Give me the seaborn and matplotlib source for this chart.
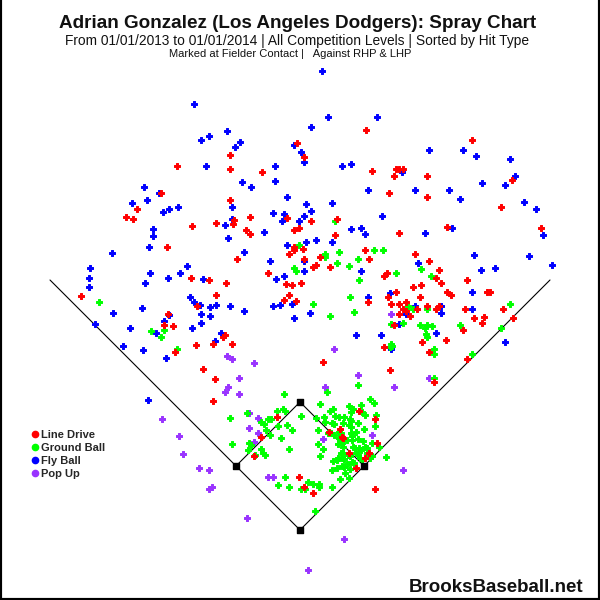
import pandas as pd
import matplotlib.pyplot as plt
import seaborn as sns
from matplotlib.lines import Line2D

# Hit locations at fielder contact, in the chart's own coordinates (y grows downward)
ld_x = [297, 366, 472, 177, 230, 230, 262, 304, 372, 396, 399, 403, 394, 427, 389, 427, 512, 501, 541, 447,
        399, 230, 161, 137, 126, 133, 192, 216, 234, 233, 250, 246, 250, 167, 237, 287, 294, 299, 311, 337,
        335, 294, 294, 289, 303, 304, 320, 313, 316, 330, 365, 369, 415, 429, 439, 436, 441, 421, 413, 384,
        387, 467, 301, 268, 191, 209, 226, 286, 292, 81, 216, 197, 168, 164, 173, 196, 213, 223, 225, 232,
        175, 203, 215, 213, 289, 284, 296, 277, 396, 388, 368, 420, 447, 451, 391, 399, 406, 403, 406, 417,
        427, 436, 439, 399, 410, 394, 465, 487, 490, 503, 484, 474, 482, 463, 513, 446, 422, 384, 429, 467,
        323, 390, 434, 359, 375, 329, 340, 342, 343, 349, 356, 365, 369, 377, 375, 261, 254, 299, 304, 313]
ld_y = [143, 130, 140, 166, 155, 169, 172, 157, 171, 169, 169, 169, 176, 176, 193, 197, 180, 207, 228, 227,
        233, 200, 193, 209, 217, 219, 226, 223, 220, 224, 217, 230, 234, 247, 259, 218, 230, 228, 221, 219,
        235, 247, 250, 254, 249, 259, 257, 267, 265, 267, 250, 259, 254, 261, 270, 278, 283, 285, 287, 276,
        273, 280, 283, 273, 278, 280, 283, 284, 285, 296, 295, 306, 314, 325, 326, 345, 344, 337, 335, 344,
        352, 369, 379, 401, 295, 300, 301, 417, 292, 297, 302, 297, 292, 295, 304, 304, 302, 309, 311, 309,
        306, 309, 306, 314, 316, 325, 309, 292, 292, 309, 317, 318, 323, 330, 318, 340, 342, 347, 352, 359,
        362, 370, 382, 411, 419, 432, 429, 437, 438, 453, 468, 458, 453, 443, 489, 437, 456, 477, 487, 493]

gb_x = [299, 294, 296, 335, 325, 325, 339, 337, 349, 358, 374, 383, 359, 396, 421, 431,
        99, 151, 164, 161, 177,
        350, 313, 330, 354, 408, 413, 427, 391, 403, 420, 425, 427, 432, 426, 427, 391, 392, 390, 434,
        434, 460, 510, 501, 472, 434, 358,
        284, 327, 370, 374, 320, 301,
        277, 283, 285, 230, 247, 261, 264, 268, 271, 278, 287, 292,
        266, 270, 281, 232, 249, 251, 261, 248, 263, 265, 255, 289,
        285, 278, 289, 308, 301, 305, 313, 319, 319, 332, 315,
        318, 318, 320,
        333, 330, 349, 361, 353, 351, 362, 365, 376, 316, 324, 335, 339, 344, 350, 351, 325, 332, 334, 343,
        349, 351, 358, 364, 375, 328, 331, 334, 339, 341, 351, 352, 356, 339, 340, 347, 352, 358, 363, 372,
        338, 342, 343, 323, 353, 355, 359, 361, 365, 367, 379, 341, 343, 338, 337, 342, 344, 348, 350, 356,
        358, 360, 362, 367, 370, 372, 386, 333, 347, 352, 354, 342, 344, 332, 337, 350, 345, 340, 349]
gb_y = [245, 268, 271, 221, 254, 257, 252, 263, 266, 259, 250, 250, 280, 273, 269, 276,
        302, 331, 330, 337, 349,
        297, 304, 316, 312, 306, 309, 309, 324, 323, 325, 328, 325, 326, 334, 337, 344, 346, 347, 349,
        354, 325, 304, 328, 354, 378, 385,
        394, 392, 399, 403, 404, 416,
        411, 409, 411, 418, 413, 422, 424, 419, 419, 426, 425, 430,
        430, 435, 438, 444, 443, 445, 449, 450, 453, 455, 455, 449,
        477, 485, 487, 482, 489, 489, 484, 484, 487, 487, 511,
        430, 444, 456,
        409, 411, 406, 405, 409, 412, 412, 415, 415, 418, 417, 416, 417, 417, 419, 421, 422, 423, 424, 423,
        425, 427, 423, 429, 426, 433, 433, 435, 432, 433, 433, 436, 432, 438, 440, 440, 440, 439, 441, 443,
        444, 443, 447, 449, 447, 448, 448, 450, 447, 448, 447, 453, 453, 458, 460, 458, 459, 455, 456, 453,
        455, 458, 460, 453, 458, 456, 457, 461, 464, 462, 463, 466, 467, 470, 468, 469, 473, 479, 478]

fb_x = [322, 194, 201, 209, 227, 240, 235, 206, 275, 242, 251, 275, 294, 287, 144, 159, 147, 132, 163, 169,
        178, 232, 232, 225, 228, 273, 284, 282, 299, 264, 153, 153, 149, 112, 244, 270, 287, 187, 150, 180,
        168, 145, 203, 90, 89, 89, 276, 284,
        328, 377, 311, 301, 304, 342, 351, 402, 429, 463, 476, 510, 515, 505, 482, 368, 415, 449, 460, 524,
        536, 543, 552, 529, 495, 481, 474, 452, 425, 382, 332, 306, 311, 304, 351, 361, 365, 316, 306, 332,
        304, 304, 361, 418,
        113, 95, 142, 130, 123, 143, 166, 156, 164, 169, 190, 194, 200, 210, 216, 230, 244, 201, 210, 201,
        192, 221, 215, 273, 280, 292, 294, 148,
        368, 390, 472, 415, 441, 441, 406, 399, 472, 310, 356, 381, 436, 391, 505]
fb_y = [71, 104, 140, 136, 131, 142, 147, 166, 166, 182, 187, 181, 145, 197, 187, 193, 200, 203, 212, 209,
        207, 207, 219, 225, 238, 213, 214, 221, 221, 232, 229, 236, 247, 253, 252, 261, 245, 266, 273, 273,
        278, 283, 279, 268, 278, 287, 279, 276,
        117, 117, 127, 152, 162, 166, 164, 172, 150, 150, 156, 159, 176, 185, 183, 190, 190, 190, 199, 202,
        209, 235, 265, 256, 268, 270, 255, 228, 233, 216, 203, 204, 211, 216, 229, 228, 234, 240, 242, 242,
        261, 271, 271, 263,
        313, 324, 308, 328, 346, 350, 358, 333, 321, 315, 297, 302, 305, 307, 305, 306, 311, 314, 316, 323,
        328, 333, 341, 306, 305, 304, 318, 400,
        297, 293, 292, 306, 306, 313, 314, 324, 309, 313, 335, 335, 333, 349, 342]

pu_x = [227, 232, 254, 239, 228, 225, 239, 162, 249, 258, 249, 258, 254, 268, 273, 179, 183, 199, 209, 209,
        212, 247, 308, 344, 391, 334, 358, 325, 394, 429, 323, 372, 403]
pu_y = [356, 359, 363, 378, 387, 392, 394, 419, 413, 418, 428, 433, 442, 477, 477, 436, 454, 468, 470, 489,
        487, 518, 570, 539, 314, 349, 375, 387, 387, 378, 439, 435, 470]

hit_types = ['Line Drive', 'Ground Ball', 'Fly Ball', 'Pop Up']
hit_colors = ['#ff0000', '#00ff00', '#0000ff', '#9933ff']

# field outline (same coordinate space)
home, first, second, third = (300, 530), (364, 466), (300, 402), (236, 466)
left_pole, right_pole = (50, 280), (550, 280)

# draw red last so it sits on top, like the original
df = pd.concat([
    pd.DataFrame({'x': fb_x, 'y': fb_y, 'type': 'Fly Ball'}),
    pd.DataFrame({'x': pu_x, 'y': pu_y, 'type': 'Pop Up'}),
    pd.DataFrame({'x': gb_x, 'y': gb_y, 'type': 'Ground Ball'}),
    pd.DataFrame({'x': ld_x, 'y': ld_y, 'type': 'Line Drive'}),
], ignore_index=True)

sns.set_theme(style='white')
plt.rcParams['font.family'] = ['Liberation Sans', 'DejaVu Sans']

fig = plt.figure(figsize=(6, 6), dpi=100)
ax = fig.add_axes([0, 0, 1, 1])

# foul lines and base paths
ax.plot([left_pole[0], home[0], right_pole[0]], [left_pole[1], home[1], right_pole[1]],
        color='black', lw=0.8, zorder=1)
ax.plot([first[0], second[0], third[0]], [first[1], second[1], third[1]],
        color='black', lw=0.8, zorder=1)

sns.scatterplot(data=df, x='x', y='y', hue='type', palette=dict(zip(hit_types, hit_colors)),
                marker='P', s=22, linewidth=0.7, edgecolor='face', legend=False, ax=ax, zorder=2)

bases = [home, first, second, third]
ax.scatter([b[0] for b in bases], [b[1] for b in bases], marker='s', s=14, color='black', zorder=3)

ax.set_xlim(0, 600)
ax.set_ylim(600, 0)
ax.set_xticks([])
ax.set_yticks([])
ax.set_xlabel('')
ax.set_ylabel('')
ax.spines['top'].set_visible(False)
for side in ['left', 'right', 'bottom']:
    ax.spines[side].set_color('black')
    ax.spines[side].set_linewidth(3)

ax.text(298, 23, 'Adrian Gonzalez (Los Angeles Dodgers): Spray Chart', ha='center', va='center',
        fontsize=13.6, fontweight='bold', color='#111111')
ax.text(297, 41, 'From 01/01/2013 to 01/01/2014 | All Competition Levels | Sorted by Hit Type',
        ha='center', va='center', fontsize=9.9, color='#111111')
ax.text(290, 54, 'Marked at Fielder Contact |   Against RHP & LHP', ha='center', va='center',
        fontsize=8, color='#111111')
ax.text(583, 588, 'BrooksBaseball.net', ha='right', va='center', fontsize=13.5,
        fontweight='bold', color='#111111')

handles = [Line2D([], [], marker='o', ls='', color=c, markersize=4.5) for c in hit_colors]
ax.legend(handles, hit_types, loc='upper left', bbox_to_anchor=(0.053, 0.283), frameon=False,
          prop={'weight': 'bold', 'size': 8}, handlelength=0.5, handletextpad=0.3,
          labelspacing=0.25, borderaxespad=0, borderpad=0)

fig.savefig('out.png', dpi=100)
